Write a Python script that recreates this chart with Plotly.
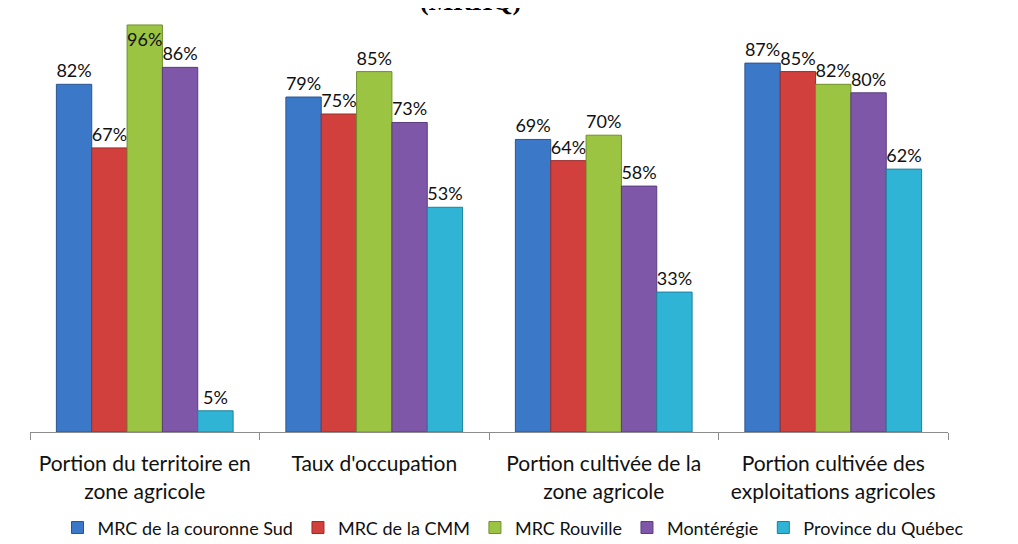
import plotly.graph_objects as go

categories = ["Portion du territoire en<br>zone agricole", "Taux d'occupation",
              "Portion cultivée de la<br>zone agricole", "Portion cultivée des<br>exploitations agricoles"]
series_names = ["MRC de la couronne Sud", "MRC de la CMM", "MRC Rouville", "Montérégie", "Province du Québec"]
couronne_sud = [82, 79, 69, 87]
cmm = [67, 75, 64, 85]
rouville = [96, 85, 70, 82]
monteregie = [86, 73, 58, 80]
quebec = [5, 53, 33, 62]
values = [couronne_sud, cmm, rouville, monteregie, quebec]
colors = ["#3C78C8", "#D2403E", "#9CC443", "#7E57A8", "#2FB4D6"]
edges = ["#2A5590", "#9A2C2A", "#6F8F2C", "#5A3D7D", "#1F8099"]

FONT = "Lato"
fig = go.Figure()
for name, vals, c, e in zip(series_names, values, colors, edges):
    fig.add_trace(go.Bar(
        x=categories, y=vals, name=name,
        marker=dict(color=c, line=dict(color=e, width=1)),
        text=[f"{v}%" for v in vals],
        textposition=["inside" if v >= 95 else "outside" for v in vals],
        insidetextanchor="end", constraintext="none", textangle=0,
        textfont=dict(family=FONT, size=18, color="#111111"),
        insidetextfont=dict(family=FONT, size=18, color="#111111"),
        outsidetextfont=dict(family=FONT, size=18, color="#111111"),
        cliponaxis=False,
    ))

# the page adds an 8px body margin, so the figure is 1010x536 drawn from (8, 8)
fig.update_layout(
    width=1010, height=536,
    barmode="group", bargap=0.23, bargroupgap=0,
    plot_bgcolor="white", paper_bgcolor="white",
    margin=dict(l=22, r=70, t=0, b=112, autoexpand=False),
    font=dict(family=FONT, size=17, color="#111111"),
    xaxis=dict(showline=True, linecolor="#8c8c8c", linewidth=1,
               ticks="outside", tickson="boundaries", ticklen=7, tickcolor="#8c8c8c",
               ticklabelstandoff=13,
               tickfont=dict(family=FONT, size=21, color="#111111"), showgrid=False),
    yaxis=dict(range=[0, 100], visible=False, showgrid=False),
    legend=dict(orientation="h", x=0.5, xanchor="center", xref="container",
                y=-0.226, yanchor="middle", font=dict(family=FONT, size=18, color="#111111"),
                bgcolor="rgba(0,0,0,0)", itemwidth=30, traceorder="normal"),
    annotations=[dict(text="<b>(MRHQ)</b>", xref="paper", yref="paper", x=0.48, y=1,
                      yanchor="bottom", yshift=-10, showarrow=False,
                      font=dict(family="Liberation Serif", size=26, color="black"))],
)
fig.write_html("out.html")
